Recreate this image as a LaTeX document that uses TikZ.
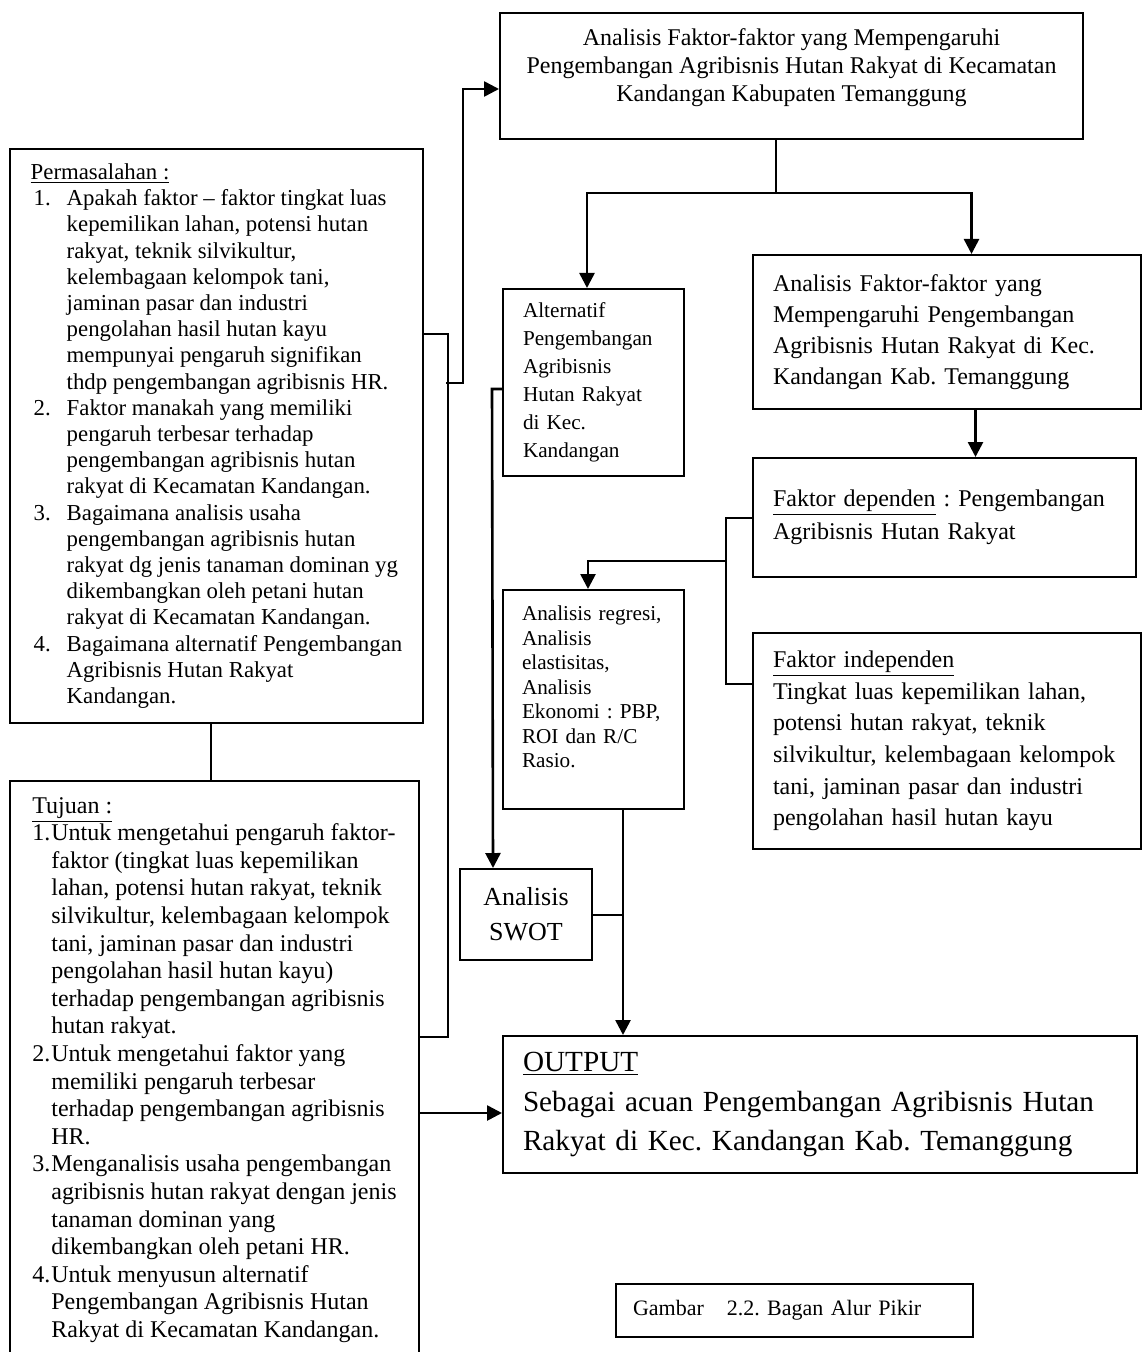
\documentclass[tikz,border=0pt]{standalone}
\usepackage{fontspec}
\setmainfont{Liberation Serif}
\usetikzlibrary{positioning,calc,arrows.meta}
\frenchspacing

\newcommand{\butir}[2]{\makebox[#1][l]{#2}}
\newcommand{\sela}[1]{\hspace*{#1}}
\newcommand{\tarik}[1]{\rule[-#1]{0pt}{#1}}

\begin{document}
\begin{tikzpicture}[
        x=0.5pt, y=-0.5pt,
        box/.style={draw, line width=1pt, anchor=north west, align=left, inner xsep=10pt, inner ysep=0pt},
        arrow/.style={-{Triangle[length=7.5pt,width=7.5pt]}, line width=1.3pt},
        link/.style={line width=1pt}
    ]
    \useasboundingbox (0,0) rectangle (1143,1352);

    % Top box
    \node[box, align=center, minimum width=291.5pt, minimum height=63pt, font=\fontsize{12}{13.8}\selectfont] (topbox) at (499,12)
        {Analisis Faktor-faktor yang Mempengaruhi\\
         Pengembangan Agribisnis Hutan Rakyat di Kecamatan\\
         Kandangan Kabupaten Temanggung\tarik{11pt}};

    % Left column
    \node[box, minimum width=206.5pt, minimum height=287pt, font=\fontsize{11.4}{13.1}\selectfont] (perm) at (9,148)
        {\underline{Permasalahan :}\\
         \butir{18pt}{\hspace{1.5pt}1.}Apakah faktor -- faktor tingkat luas\\
         \sela{18pt}kepemilikan lahan, potensi hutan\\
         \sela{18pt}rakyat, teknik silvikultur,\\
         \sela{18pt}kelembagaan kelompok tani,\\
         \sela{18pt}jaminan pasar dan industri\\
         \sela{18pt}pengolahan hasil hutan kayu\\
         \sela{18pt}mempunyai pengaruh signifikan\\
         \sela{18pt}thdp pengembangan agribisnis HR.\\
         \butir{18pt}{\hspace{1.5pt}2.}Faktor manakah yang memiliki\\
         \sela{18pt}pengaruh terbesar terhadap\\
         \sela{18pt}pengembangan agribisnis hutan\\
         \sela{18pt}rakyat di Kecamatan Kandangan.\\
         \butir{18pt}{\hspace{1.5pt}3.}Bagaimana analisis usaha\\
         \sela{18pt}pengembangan agribisnis hutan\\
         \sela{18pt}rakyat dg jenis tanaman dominan yg\\
         \sela{18pt}dikembangkan oleh petani hutan\\
         \sela{18pt}rakyat di Kecamatan Kandangan.\\
         \butir{18pt}{\hspace{1.5pt}4.}Bagaimana alternatif Pengembangan\\
         \sela{18pt}Agribisnis Hutan Rakyat\\
         \sela{18pt}Kandangan.};
    \node[box, minimum width=204.5pt, minimum height=289pt, font=\fontsize{12}{13.8}\selectfont] (tuj) at (9,780)
        {\underline{Tujuan :}\\
         \butir{9.5pt}{1.}Untuk mengetahui pengaruh faktor-\\
         \sela{9.5pt}faktor (tingkat luas kepemilikan\\
         \sela{9.5pt}lahan, potensi hutan rakyat, teknik\\
         \sela{9.5pt}silvikultur, kelembagaan kelompok\\
         \sela{9.5pt}tani, jaminan pasar dan industri\\
         \sela{9.5pt}pengolahan hasil hutan kayu)\\
         \sela{9.5pt}terhadap pengembangan agribisnis\\
         \sela{9.5pt}hutan rakyat.\\
         \butir{9.5pt}{2.}Untuk mengetahui faktor yang\\
         \sela{9.5pt}memiliki pengaruh terbesar\\
         \sela{9.5pt}terhadap pengembangan agribisnis\\
         \sela{9.5pt}HR.\\
         \butir{9.5pt}{3.}Menganalisis usaha pengembangan\\
         \sela{9.5pt}agribisnis hutan rakyat dengan jenis\\
         \sela{9.5pt}tanaman dominan yang\\
         \sela{9.5pt}dikembangkan oleh petani HR.\\
         \butir{9.5pt}{4.}Untuk menyusun alternatif\\
         \sela{9.5pt}Pengembangan Agribisnis Hutan\\
         \sela{9.5pt}Rakyat di Kecamatan Kandangan.};

    % Middle column
    \node[box, minimum width=90.5pt, minimum height=93.5pt, text width=70.5pt, font=\fontsize{10.6}{14}\selectfont] (alt) at (502,288)
        {Alternatif\\ Pengembangan\\ Agribisnis\\ Hutan Rakyat\\ di Kec.\\ Kandangan};
    \node[box, minimum width=90.5pt, minimum height=109.5pt, text width=71.5pt, inner xsep=9.5pt, font=\fontsize{10.6}{12.25}\selectfont] (metode) at (502,589)
        {Analisis regresi,\\ Analisis\\ elastisitas,\\ Analisis\\ Ekonomi : PBP,\\ ROI dan R/C\\ Rasio.\tarik{12.5pt}};
    \node[box, align=center, minimum width=66pt, minimum height=45.5pt, inner xsep=2pt, font=\fontsize{13}{17.5}\selectfont] (swot) at (459,868)
        {Analisis\\ SWOT};

    % Right column
    \node[box, minimum width=194pt, minimum height=77pt, text width=174pt, font=\fontsize{12}{15.5}\selectfont] (anfak) at (752,254)
        {Analisis Faktor-faktor yang\\ Mempengaruhi Pengembangan\\ Agribisnis Hutan Rakyat di Kec.\\ Kandangan Kab. Temanggung};
    \node[box, minimum width=191.5pt, minimum height=59.5pt, text width=171.5pt, font=\fontsize{12}{16.5}\selectfont] (dep) at (752,457)
        {\underline{Faktor dependen} : Pengembangan\\ Agribisnis Hutan Rakyat};
    \node[box, minimum width=194pt, minimum height=108pt, text width=174pt, font=\fontsize{12}{15.8}\selectfont] (indep) at (752,632)
        {\underline{Faktor independen}\\
         Tingkat luas kepemilikan lahan,\\
         potensi hutan rakyat, teknik\\
         silvikultur, kelembagaan kelompok\\
         tani, jaminan pasar dan industri\\
         pengolahan hasil hutan kayu};

    % Output and caption
    \node[box, minimum width=317pt, minimum height=68.5pt, text width=297pt, font=\fontsize{14.6}{19.7}\selectfont] (hasil) at (502,1035)
        {\underline{OUTPUT}\\ Sebagai acuan Pengembangan Agribisnis Hutan\\ Rakyat di Kec. Kandangan Kab. Temanggung};
    \node[box, minimum width=178.5pt, minimum height=26.5pt, text width=161.5pt, inner xsep=8.5pt, font=\fontsize{11}{13}\selectfont] (ket) at (615,1283)
        {Gambar\hspace{11.5pt}2.2. Bagan Alur Pikir};

    % Arrows
    \draw[link] ([xshift=-7.75pt]topbox.south) -- ++(0,-26.5pt) coordinate (split);
    \draw[arrow] (split) -| ([xshift=-3.25pt]alt.north);
    \draw[arrow] (split) -| ([xshift=12.25pt]anfak.north);
    \draw[arrow] ([xshift=14.25pt]anfak.south) -- ([xshift=14.25pt]anfak.south |- dep.north);

    \draw[link] (dep.west) -- ++(-13pt,0) |- ([yshift=-26pt]indep.north west);
    \coordinate (brk) at (726,561);
    \draw[arrow] (brk) -| ([xshift=-2.75pt]metode.north);

    \draw[arrow] ([xshift=14.75pt]metode.south) coordinate (turun) -- (turun |- hasil.north);
    \draw[link] (swot.east) -- (swot.east -| turun);
    \draw[arrow] ([yshift=-3.25pt]alt.west) -- ++(-5pt,0) -- ([xshift=-16.5pt]swot.north);

    \draw[link] ([xshift=-2.75pt]perm.south) -- ([xshift=-2.75pt]perm.south |- tuj.north);
    \draw[link] ([yshift=51pt]perm.east) -- ++(12pt,0) |- ([yshift=16.5pt]tuj.east);
    \coordinate (naik) at (446,383);
    \draw[arrow] (naik) -- ++(8.5pt,0) |- ([yshift=-6.5pt]topbox.west);
    \draw[arrow] ([yshift=-21.5pt]tuj.east) -- ([yshift=-21.5pt]tuj.east -| hasil.west);

\end{tikzpicture}
\end{document}
